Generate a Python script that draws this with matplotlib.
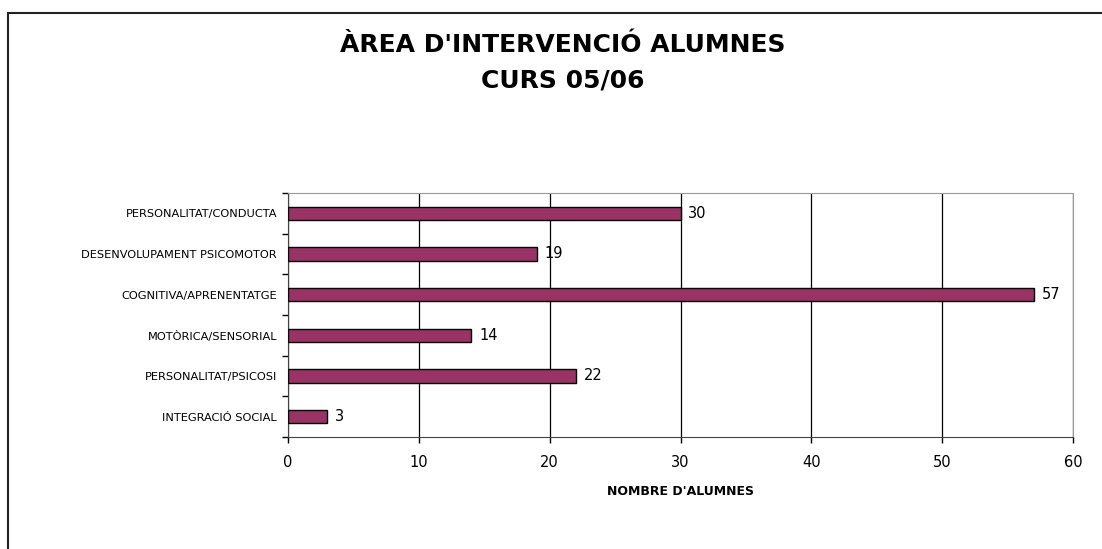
import matplotlib
matplotlib.use("Agg")
import matplotlib.pyplot as plt
from matplotlib.patches import Rectangle

categories = ["PERSONALITAT/CONDUCTA", "DESENVOLUPAMENT PSICOMOTOR", "COGNITIVA/APRENENTATGE",
              "MOTÒRICA/SENSORIAL", "PERSONALITAT/PSICOSI", "INTEGRACIÓ SOCIAL"]
values = [30, 19, 57, 14, 22, 3]
xticks = [0, 10, 20, 30, 40, 50, 60]

plt.rcParams['font.family'] = ['DejaVu Sans']

W, H = 1102, 549
fig = plt.figure(figsize=(W/100, H/100), dpi=100)
# outer border (left and top visible; right/bottom cropped)
fig.add_artist(Rectangle((8/W, -0.05), 1.2, (H-13)/H + 0.05, transform=fig.transFigure,
                         fill=False, edgecolor='#222222', linewidth=1.5))

x0, x1, yt, yb = 288, 1073, 193, 437
ax = fig.add_axes([x0/W, 1-yb/H, (x1-x0)/W, (yb-yt)/H])
n = len(categories)
ypos = list(range(n))
ax.barh(ypos, values, height=0.32, color='#993366', edgecolor='black', linewidth=1.0, zorder=3)
ax.set_ylim(n-0.5, -0.5)
ax.set_xlim(0, 60)
ax.set_xticks(xticks)
ax.set_xticklabels([str(t) for t in xticks], fontsize=10.5)
ax.set_yticks(ypos)
ax.set_yticklabels(categories, fontsize=8.2)
ax.set_yticks([i-0.5 for i in range(n+1)], minor=True)
ax.tick_params(axis='y', which='major', length=0, pad=8)
ax.tick_params(axis='y', which='minor', length=4, direction='out', width=1, color='black')
ax.tick_params(axis='x', length=4, direction='out', width=1, pad=9)
ax.grid(axis='x', color='black', linewidth=0.9, zorder=0)
for s in ['top', 'right']:
    ax.spines[s].set_color('#999999')
for s in ['left', 'bottom']:
    ax.spines[s].set_color('#444444')
for i, v in enumerate(values):
    ax.text(v + 0.6, i, str(v), va='center', ha='left', fontsize=10.5, zorder=4)
ax.set_xlabel("NOMBRE D'ALUMNES", fontsize=9, fontweight='bold', labelpad=11)

fig.text(563/W, 1-45/H, "ÀREA D'INTERVENCIÓ ALUMNES", ha='center', va='center',
         fontsize=18, fontweight='bold')
fig.text(563/W, 1-80/H, "CURS 05/06", ha='center', va='center', fontsize=18, fontweight='bold')

fig.savefig("out.png", dpi=100)
